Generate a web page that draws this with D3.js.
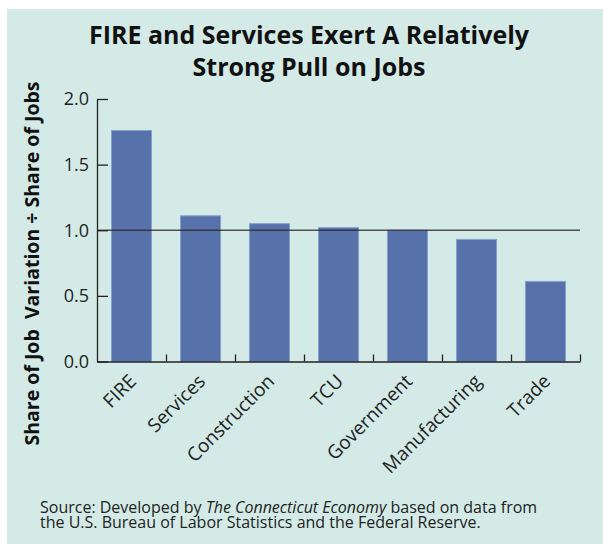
<!DOCTYPE html>
<html>
<head>
<meta charset="utf-8">
<script src="https://cdn.jsdelivr.net/npm/d3@7"></script>
<style>
  html, body { margin: 0; padding: 0; background: #ffffff; }
  svg { display: block; }
  text { font-family: "Open Sans", "Noto Sans", sans-serif; }
</style>
</head>
<body>
<div id="chart"></div>
<script>
// Ratio of an industry's share of job variation to its share of jobs
const categories = ["FIRE", "Services", "Construction", "TCU", "Government", "Manufacturing", "Trade"];
const values = [1.76, 1.11, 1.05, 1.02, 1.00, 0.93, 0.61];
const yTicks = [0, 0.5, 1.0, 1.5, 2.0];
const referenceValue = 1.0;
const titleLines = ["FIRE and Services Exert A Relatively", "Strong Pull on Jobs"];
const yTitle = "Share of Job  Variation \u00F7 Share of Jobs";

const W = 603, H = 544;
const plot = { left: 97, right: 580, top: 99, bottom: 361.5 };

const svg = d3.select("#chart").append("svg")
  .attr("width", W).attr("height", H);

// panel background
svg.append("rect")
  .attr("x", 7).attr("y", 9)
  .attr("width", W - 7).attr("height", H - 9)
  .attr("fill", "#d3eae6");

// title
svg.append("g").selectAll("text")
  .data(titleLines)
  .join("text")
  .attr("x", 309)
  .attr("y", (d, i) => 44 + i * 32)
  .attr("text-anchor", "middle")
  .attr("font-size", 25)
  .attr("font-weight", 700)
  .attr("fill", "#111")
  .text(d => d);

const x = d3.scaleBand()
  .domain(categories)
  .range([plot.left, plot.right])
  .paddingInner(0.42)
  .paddingOuter(0.21);

const y = d3.scaleLinear()
  .domain([0, 2])
  .range([plot.bottom, plot.top]);

// bars
svg.append("g").selectAll("rect")
  .data(categories.map((c, i) => ({ c, v: values[i] })))
  .join("rect")
  .attr("x", d => x(d.c))
  .attr("y", d => y(d.v))
  .attr("width", x.bandwidth())
  .attr("height", d => y(0) - y(d.v))
  .attr("fill", "#5771ab")
  .attr("stroke", "#86a2cf")
  .attr("stroke-width", 1);

// reference line at 1.0
svg.append("line")
  .attr("x1", plot.left).attr("x2", plot.right)
  .attr("y1", y(referenceValue)).attr("y2", y(referenceValue))
  .attr("stroke", "#2b2b2b")
  .attr("stroke-opacity", 0.8)
  .attr("stroke-width", 1.6);

// y axis, ticks pointing inward
const yAxis = svg.append("g")
  .attr("transform", `translate(${plot.left},0)`)
  .call(d3.axisLeft(y)
    .tickValues(yTicks)
    .tickFormat(d3.format(".1f"))
    .tickSizeInner(-11)
    .tickSizeOuter(0)
    .tickPadding(8));
yAxis.select(".domain").attr("stroke", "#222").attr("stroke-width", 1.3);
yAxis.selectAll(".tick line").attr("stroke", "#222").attr("stroke-width", 1.3);
yAxis.selectAll(".tick text")
  .attr("font-size", 18)
  .attr("fill", "#222")
  .attr("font-family", "Open Sans, sans-serif");

// x axis: ticks at the category boundaries, pointing up
const edge = d3.scaleLinear().domain([0, categories.length]).range([plot.left, plot.right]);
const xAxis = svg.append("g")
  .attr("transform", `translate(0,${plot.bottom})`)
  .call(d3.axisBottom(edge)
    .tickValues(d3.range(1, categories.length + 1))
    .tickFormat("")
    .tickSizeInner(-7)
    .tickSizeOuter(0));
xAxis.select(".domain").attr("stroke", "#222").attr("stroke-width", 1.3);
xAxis.selectAll(".tick line").attr("stroke", "#222").attr("stroke-width", 1.3);

// category labels, rotated
svg.append("g").selectAll("text")
  .data(categories)
  .join("text")
  .attr("transform", d => `translate(${x(d) + x.bandwidth() / 2 + 6},${plot.bottom + 21}) rotate(-45)`)
  .attr("text-anchor", "end")
  .attr("font-size", 19)
  .attr("fill", "#222")
  .text(d => d);

// y axis title
svg.append("text")
  .attr("transform", `translate(39,263.5) rotate(-90)`)
  .attr("text-anchor", "middle")
  .attr("font-size", 19.5)
  .attr("font-weight", 700)
  .attr("fill", "#111")
  .style("white-space", "pre")
  .text(yTitle);

// source note
const note = svg.append("g").attr("font-size", 16).attr("fill", "#222");
const l1 = note.append("text").attr("x", 40).attr("y", 513);
l1.append("tspan").text("Source: Developed by ");
l1.append("tspan").attr("font-style", "italic").text("The Connecticut Economy");
l1.append("tspan").text(" based on data from");
note.append("text").attr("x", 40).attr("y", 528)
  .text("the U.S. Bureau of Labor Statistics and the Federal Reserve.");
</script>
</body>
</html>
